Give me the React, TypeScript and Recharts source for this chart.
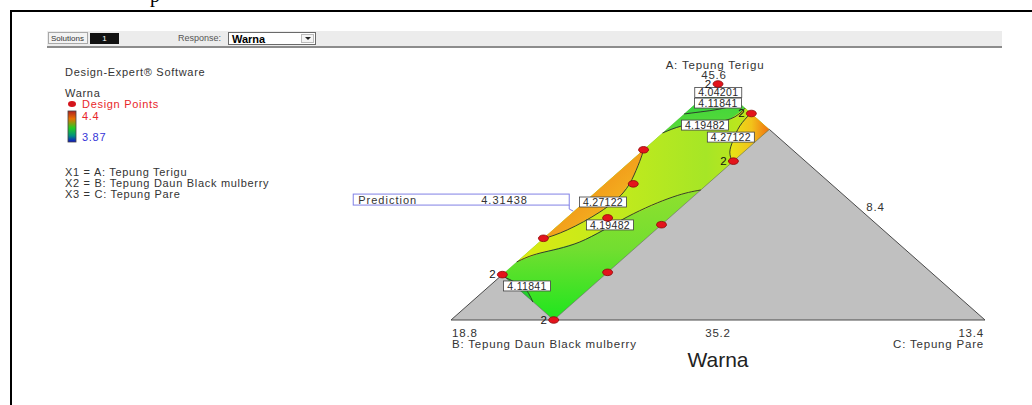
import React from 'react'
import { ComposedChart, Scatter, XAxis, YAxis, Curve } from 'recharts'

type Mix = [number, number, number] // A, B, C

// constrained mixture: A + B + C = 57, each pseudo range 10.4
const A_LOW = 35.2
const C_LOW = 3.0
const RANGE = 10.4

const componentNames = ['A: Tepung Terigu', 'B: Tepung Daun Black mulberry', 'C: Tepung Pare']
const vertexMax = [45.6, 18.8, 13.4]
const edgeMin = [35.2, 8.4]

const simplex: Mix[] = [[45.6, 8.4, 3.0], [35.2, 18.8, 3.0], [35.2, 8.4, 13.4]]
const bcMid: Mix = [35.2, 13.6, 8.2]
const acMid: Mix = [40.4, 8.4, 8.2]
// B <= 16.8, C <= 5.0
const feasible: Mix[] = [[45.6, 8.4, 3.0], [37.2, 16.8, 3.0], [35.2, 16.8, 5.0], [43.6, 8.4, 5.0]]

const levels = [4.04201, 4.11841, 4.19482, 4.27122]

const contour404: Mix[] = [[45.38, 8.62, 3.0], [45.36, 8.5, 3.14], [45.38, 8.4, 3.22]]
const contour412Top: Mix[] = [[44.28, 9.72, 3.0], [44.37, 9.36, 3.27], [44.5, 8.91, 3.59], [44.72, 8.4, 3.88]]
const contour412Low: Mix[] = [[37.09, 16.81, 3.1], [36.72, 16.68, 3.6], [36.38, 16.7, 3.92], [35.99, 16.81, 4.2]]
const contour419Top: Mix[] = [[43.44, 10.56, 3.0], [43.75, 10.03, 3.22], [43.88, 9.51, 3.61], [44.06, 8.93, 4.01], [44.54, 8.4, 4.06]]
const contour419Low: Mix[] = [[37.76, 16.24, 3.0], [38.15, 15.59, 3.26], [38.64, 14.57, 3.79], [39.74, 13.1, 4.16], [40.62, 11.77, 4.61], [40.93, 11.07, 5.0]]
const contour427Left: Mix[] = [[38.77, 15.23, 3.0], [39.17, 14.55, 3.28], [39.96, 13.52, 3.52], [40.8, 12.65, 3.55], [41.59, 12.04, 3.37], [42.34, 11.53, 3.13], [42.69, 11.31, 3.0]]
const contour427Right: Mix[] = [[44.32, 8.4, 4.28], [43.75, 8.9, 4.35], [43.13, 9.34, 4.53], [42.6, 9.67, 4.73], [42.16, 9.84, 5.0]]

const contourLabels: { level: number; at: Mix }[] = [
  { level: levels[0], at: [45.23, 8.58, 3.19] },
  { level: levels[1], at: [44.76, 8.82, 3.42] },
  { level: levels[2], at: [43.79, 9.56, 3.65] },
  { level: levels[3], at: [43.26, 9.32, 4.42] },
  { level: levels[3], at: [40.4, 13.24, 3.36] },
  { level: levels[2], at: [39.39, 13.61, 4.0] },
  { level: levels[1], at: [36.7, 16.57, 3.73] },
]

const designPoints: Mix[] = [
  [45.6, 8.4, 3.0], [44.3, 8.4, 4.3], [42.2, 9.8, 5.0], [42.7, 11.3, 3.0],
  [41.2, 12.25, 3.55], [38.8, 15.2, 3.0], [39.7, 13.5, 3.8], [39.4, 12.6, 5.0],
  [37.3, 14.7, 5.0], [37.2, 16.8, 3.0], [35.2, 16.8, 5.0],
]
const replicates = [2, 2, 2, 1, 1, 1, 1, 1, 1, 2, 2]

const predictionMix: Mix = [40.0, 14.0, 3.0]
const predictionValue = 4.31438

const scaleHigh = 4.4
const scaleLow = 3.87

const W = 1032
const H = 405
const FONT = '"Liberation Sans", Arial, sans-serif'

const toXY = (m: Mix) => {
  const a = (m[0] - A_LOW) / RANGE
  const c = (m[2] - C_LOW) / RANGE
  return { x: c + a / 2, y: a }
}

const hidden = () => <g />
const ptsAttr = (pts: { x: number; y: number }[]) => pts.map(q => `${q.x},${q.y}`).join(' ')

const region = (key: string, pts: Mix[], fill: string) => (
  <Scatter key={key} data={pts.map(toXY)} shape={hidden} isAnimationActive={false}
    line={(p: any) => <polygon points={ptsAttr(p.points)} fill={fill} stroke="none" />} />
)

const trace = (key: string, pts: Mix[], stroke: string, width: number, type: any = 'natural') => (
  <Scatter key={key} data={pts.map(toXY)} shape={hidden} isAnimationActive={false}
    line={(p: any) => <Curve points={p.points} type={type} fill="none" stroke={stroke} strokeWidth={width} />} />
)

// label placement per anchor
const axisLabels = [
  { ...toXY(simplex[0]), text: componentNames[0], dx: -3, dy: -15, anchor: 'middle' },
  { ...toXY(simplex[0]), text: String(vertexMax[0]), dx: -4, dy: -5, anchor: 'middle' },
  { ...toXY(simplex[1]), text: String(vertexMax[1]), dx: 1, dy: 16.5, anchor: 'start' },
  { ...toXY(simplex[1]), text: componentNames[1], dx: 1, dy: 28, anchor: 'start' },
  { ...toXY(bcMid), text: String(edgeMin[0]), dx: 0, dy: 16.5, anchor: 'middle' },
  { ...toXY(simplex[2]), text: String(vertexMax[2]), dx: -1, dy: 16.5, anchor: 'end' },
  { ...toXY(simplex[2]), text: componentNames[2], dx: -1, dy: 28, anchor: 'end' },
  { ...toXY(acMid), text: String(edgeMin[1]), dx: 24, dy: 9, anchor: 'middle' },
]

const abs = (s: React.CSSProperties): React.CSSProperties => ({ position: 'absolute', whiteSpace: 'nowrap', ...s })
const legendText: React.CSSProperties = { fontSize: 11, letterSpacing: 0.7, lineHeight: '12px', color: '#333' }

export default function App() {
  const apex = simplex[0]
  const P3 = feasible[3]
  return (
    <div style={abs({ left: 0, top: 0, width: W, height: H, background: '#fff', overflow: 'hidden', fontFamily: FONT })}>
      <div style={abs({ left: 0, top: 0 })}>
        <ComposedChart width={W} height={H} margin={{ top: 84, right: 47, bottom: 85, left: 451 }}>
          <defs>
            <linearGradient id="bandFill" x1="0" y1="0" x2="0" y2="1">
              <stop offset="0%" stopColor="#35d23a" />
              <stop offset="15%" stopColor="#4fd83a" />
              <stop offset="45%" stopColor="#8fe02e" />
              <stop offset="70%" stopColor="#72de30" />
              <stop offset="100%" stopColor="#1ee61e" />
            </linearGradient>
            <linearGradient id="midFill" x1="0" y1="0" x2="1" y2="0">
              <stop offset="0%" stopColor="#dcea12" />
              <stop offset="40%" stopColor="#c2ea1c" />
              <stop offset="75%" stopColor="#a6e626" />
              <stop offset="100%" stopColor="#cfe616" />
            </linearGradient>
            <linearGradient id="leftHot" x1="0.2" y1="0.2" x2="0.95" y2="0.95">
              <stop offset="0%" stopColor="#f08414" />
              <stop offset="55%" stopColor="#f3aa1e" />
              <stop offset="100%" stopColor="#eed814" />
            </linearGradient>
            <linearGradient id="rightHot" x1="0" y1="0" x2="1" y2="0">
              <stop offset="0%" stopColor="#e6e616" />
              <stop offset="55%" stopColor="#f2c21a" />
              <stop offset="100%" stopColor="#f07010" />
            </linearGradient>
            <linearGradient id="scaleBar" x1="0" y1="0" x2="0" y2="1">
              <stop offset="0%" stopColor="#b02020" />
              <stop offset="25%" stopColor="#e87000" />
              <stop offset="55%" stopColor="#22cc22" />
              <stop offset="80%" stopColor="#009080" />
              <stop offset="100%" stopColor="#1010c8" />
            </linearGradient>
          </defs>
          <XAxis type="number" dataKey="x" domain={[0, 1]} hide />
          <YAxis type="number" dataKey="y" domain={[0, 1]} hide />

          {region('simplex', simplex, '#c0c0c0')}
          {region('band', feasible, 'url(#bandFill)')}
          {region('apexZone', [...contour412Top, apex], '#3cd43c')}
          {region('midZone', [...contour419Low, P3, ...[...contour419Top].reverse()], 'url(#midFill)')}
          {region('leftHot', contour427Left, 'url(#leftHot)')}
          {region('rightHot', [...contour427Right, P3], 'url(#rightHot)')}
          {region('tip', [apex, ...contour404], '#2f6cf0')}
          {region('lowZone', contour412Low, '#1fd42a')}

          {trace('grayEdge', [feasible[1], simplex[1], simplex[2], P3], '#4a4a4a', 1, 'linear')}
          {trace('bandEdge', [feasible[1], feasible[2], P3], '#6a6a6a', 0.6, 'linear')}

          {trace('c404', contour404, '#2b2b2b', 0.9)}
          {trace('c412t', contour412Top, '#2b2b2b', 0.9)}
          {trace('c412l', contour412Low, '#2b2b2b', 0.9)}
          {trace('c419t', contour419Top, '#2b2b2b', 0.9)}
          {trace('c419l', contour419Low, '#2b2b2b', 0.9)}
          {trace('c427l', contour427Left, '#2b2b2b', 0.9)}
          {trace('c427r', contour427Right, '#2b2b2b', 0.9)}

          <Scatter data={contourLabels.map(l => ({ ...toXY(l.at), text: String(l.level) }))} isAnimationActive={false}
            shape={(p: any) => (
              <g>
                <rect x={p.cx - 23.5} y={p.cy - 5} width={47} height={10} fill="#fff" stroke="#404040" strokeWidth={0.8} />
                <text x={p.cx} y={p.cy + 3.8} textAnchor="middle" fontSize={10.5} letterSpacing={0.3} fontFamily={FONT} fill="#2a2a2a">
                  {p.payload?.text ?? p.text}
                </text>
              </g>
            )} />

          <Scatter data={designPoints.map((m, i) => ({ ...toXY(m), reps: replicates[i] }))} isAnimationActive={false}
            shape={(p: any) => {
              const reps = p.payload?.reps ?? p.reps
              return (
                <g>
                  <ellipse cx={p.cx} cy={p.cy} rx={5} ry={3.3} fill="#e3141c" stroke="#8a0a0a" strokeWidth={0.8} />
                  {reps > 1 && (
                    <text x={p.cx - 10} y={p.cy + 3.5} textAnchor="middle" fontSize={11.5} fontFamily={FONT} fill="#111">{reps}</text>
                  )}
                </g>
              )
            }} />

          <Scatter data={axisLabels} isAnimationActive={false}
            shape={(p: any) => {
              const d = p.payload ?? p
              return (
                <text x={p.cx + d.dx} y={p.cy + d.dy} textAnchor={d.anchor} fontSize={11.5} letterSpacing={0.8} fontFamily={FONT} fill="#333">{d.text}</text>
              )
            }} />

          <Scatter data={[{ ...toXY(predictionMix), value: predictionValue }]} isAnimationActive={false}
            shape={(p: any) => {
              const v = p.payload?.value ?? p.value
              return (
                <g>
                  <rect x={p.cx - 221} y={p.cy - 17} width={216} height={11} fill="#fff" stroke="#8080e6" strokeWidth={1} />
                  <path d={`M${p.cx - 5},${p.cy - 6} L${p.cx - 5},${p.cy - 2} L${p.cx - 1},${p.cy}`} fill="none" stroke="#8080e6" strokeWidth={1} />
                  <text x={p.cx - 216} y={p.cy - 7.5} fontSize={11} letterSpacing={1} fontFamily={FONT} fill="#333">Prediction</text>
                  <text x={p.cx - 93} y={p.cy - 7.5} fontSize={11} letterSpacing={1} fontFamily={FONT} fill="#333">{v}</text>
                </g>
              )
            }} />
        </ComposedChart>
      </div>

      {/* document fragment above the frame */}
      <div style={abs({ left: 150, top: -15, font: '20px "Liberation Serif", serif', lineHeight: '20px', color: '#000' })}>p</div>
      <div style={abs({ left: 10, top: 10, width: 1040, height: 420, borderTop: '2px solid #000', borderLeft: '2px solid #000' })} />

      {/* toolbar */}
      <div style={abs({ left: 47, top: 31, width: 955, height: 15, background: '#ececec', borderBottom: '2px solid #8c8c8c' })} />
      <div style={abs({ left: 48, top: 32, width: 40, height: 12, border: '1px solid #a8a8a8', background: '#f3f3f3', fontSize: 8, lineHeight: '12px', color: '#333', paddingLeft: 2, boxSizing: 'border-box' })}>Solutions</div>
      <div style={abs({ left: 90, top: 33, width: 29, height: 11, background: '#111', color: '#fff', fontSize: 8, lineHeight: '11px', textAlign: 'center' })}>1</div>
      <div style={abs({ left: 178, top: 33, fontSize: 9, lineHeight: '11px', color: '#555' })}>Response:</div>
      <div style={abs({ left: 228, top: 32, width: 88, height: 13, background: '#fff', border: '1px solid #6a6a6a', boxSizing: 'border-box' })}>
        <span style={abs({ left: 3, top: 0, fontSize: 11, fontWeight: 'bold', lineHeight: '12px', color: '#000' })}>Warna</span>
        <span style={abs({ left: 72, top: 1, width: 13, height: 9, border: '1px solid #bbb', background: '#f4f4f4', boxSizing: 'border-box' })} />
        <span style={abs({ left: 76, top: 4, width: 0, height: 0, borderLeft: '3px solid transparent', borderRight: '3px solid transparent', borderTop: '3px solid #222' })} />
      </div>

      {/* legend */}
      <div style={abs({ left: 65, top: 66, ...legendText })}>Design-Expert® Software</div>
      <div style={abs({ left: 65, top: 87, ...legendText })}>Warna</div>
      <div style={abs({ left: 68, top: 101, width: 8, height: 6, borderRadius: '50%', background: '#d4141c' })} />
      <div style={abs({ left: 82, top: 98, ...legendText, color: '#e8262a' })}>Design Points</div>
      <svg style={abs({ left: 67, top: 110 })} width={11} height={33}>
        <rect x={1} y={1} width={8} height={31} fill="url(#scaleBar)" stroke="#444" strokeWidth={0.8} />
      </svg>
      <div style={abs({ left: 82, top: 110, ...legendText, color: '#e8262a' })}>{scaleHigh}</div>
      <div style={abs({ left: 82, top: 131, ...legendText, color: '#3535d8' })}>{scaleLow}</div>
      <div style={abs({ left: 65, top: 166, ...legendText })}>X1 = {componentNames[0]}</div>
      <div style={abs({ left: 65, top: 177, ...legendText })}>X2 = {componentNames[1]}</div>
      <div style={abs({ left: 65, top: 188, ...legendText })}>X3 = {componentNames[2]}</div>

      <div style={abs({ left: 618, top: 348, width: 200, textAlign: 'center', fontSize: 21, lineHeight: '24px', color: '#222' })}>Warna</div>
    </div>
  )
}
